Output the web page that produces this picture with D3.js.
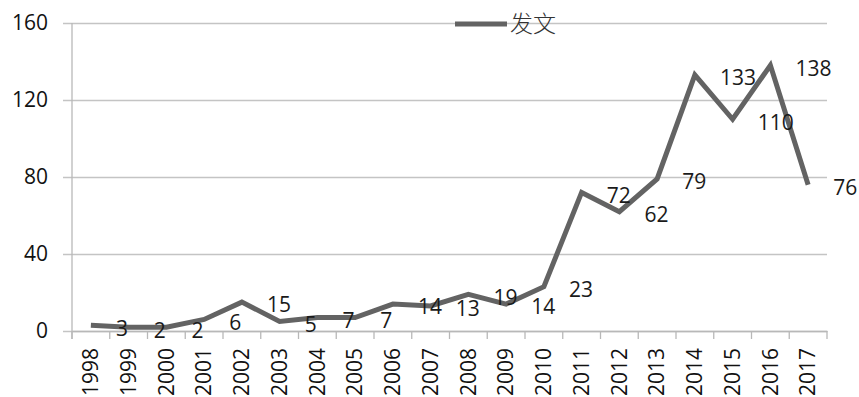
<!DOCTYPE html>
<html>
<head>
<meta charset="utf-8">
<script src="https://cdn.jsdelivr.net/npm/d3@7"></script>
<style>
    body { margin: 0; background: #fff; }
    svg { display: block; }
</style>
</head>
<body>
<div id="chart"></div>
<script>
var years = ['1998', '1999', '2000', '2001', '2002', '2003', '2004', '2005', '2006', '2007',
    '2008', '2009', '2010', '2011', '2012', '2013', '2014', '2015', '2016', '2017'];
var papers = [3, 2, 2, 6, 15, 5, 7, 7, 14, 13, 19, 14, 23, 72, 62, 79, 133, 110, 138, 76];
var yTicks = [0, 40, 80, 120, 160];
var seriesName = '发文';

var width = 859,
    height = 397;

var margin = { top: 23, right: 32, bottom: 66, left: 72 };

var svg = d3.select('#chart').append('svg')
    .attr('width', width)
    .attr('height', height);

var x = d3.scaleBand()
    .domain(years)
    .range([margin.left, width - margin.right]);

var y = d3.scaleLinear()
    .domain([0, 160])
    .range([height - margin.bottom, margin.top]);

var labelFont = '"Open Sans", sans-serif';

// gridlines + y labels
var yAxis = svg.append('g')
    .attr('class', 'y-axis')
    .attr('transform', 'translate(' + margin.left + ',0)')
    .call(d3.axisLeft(y)
        .tickValues(yTicks)
        .tickSize(-(width - margin.left - margin.right))
        .tickPadding(24)
        .tickSizeOuter(0));

yAxis.select('.domain').remove();
yAxis.selectAll('.tick line')
    .attr('x1', -9)
    .style('stroke', '#c4c4c4')
    .style('stroke-width', 1.3);
yAxis.selectAll('.tick text')
    .style('font-family', labelFont)
    .style('font-size', '21px')
    .style('fill', '#111');

// left axis line
svg.append('line')
    .attr('x1', margin.left).attr('x2', margin.left)
    .attr('y1', y(160)).attr('y2', y(0) + 8)
    .style('stroke', '#b8b8b8')
    .style('stroke-width', 1.3);

// x axis
var xAxis = svg.append('g')
    .attr('class', 'x-axis')
    .attr('transform', 'translate(0,' + y(0) + ')')
    .call(d3.axisBottom(x).tickSize(0).tickPadding(0));

xAxis.select('.domain')
    .style('stroke', '#b8b8b8')
    .style('stroke-width', 1.3);

xAxis.selectAll('.tick text')
    .style('font-family', labelFont)
    .style('font-size', '21px')
    .style('fill', '#111')
    .attr('text-anchor', 'end')
    .attr('dy', '0.35em')
    .attr('transform', 'translate(0,17) rotate(-90)')
    .attr('x', 0)
    .attr('y', 0);

// tick marks on band boundaries
var bounds = years.map(function (d) { return x(d); }).concat([x(years[years.length - 1]) + x.bandwidth()]);
xAxis.selectAll('.bound')
    .data(bounds)
    .enter().append('line')
    .attr('class', 'bound')
    .attr('x1', function (d) { return d; })
    .attr('x2', function (d) { return d; })
    .attr('y1', 0)
    .attr('y2', 8)
    .style('stroke', '#b8b8b8')
    .style('stroke-width', 1.3);

// line
var line = d3.line()
    .x(function (d, i) { return x(years[i]) + x.bandwidth() / 2; })
    .y(function (d) { return y(d); });

svg.append('path')
    .datum(papers)
    .attr('d', line)
    .style('fill', 'none')
    .style('stroke', '#636363')
    .style('stroke-width', 5)
    .style('stroke-linejoin', 'miter');

// data labels
svg.append('g')
    .attr('class', 'labels')
    .selectAll('text')
    .data(papers)
    .enter().append('text')
    .attr('x', function (d, i) { return x(years[i]) + x.bandwidth() / 2 + 25; })
    .attr('y', function (d) { return y(d) + 3; })
    .attr('dy', '0.35em')
    .text(function (d) { return d; })
    .style('font-family', labelFont)
    .style('font-size', '21px')
    .style('fill', '#1a1a1a');

// legend
var legend = svg.append('g')
    .attr('class', 'legend')
    .attr('transform', 'translate(455,24)');

legend.append('line')
    .attr('x1', 0).attr('x2', 52)
    .attr('y1', 0).attr('y2', 0)
    .style('stroke', '#636363')
    .style('stroke-width', 5);

legend.append('text')
    .attr('x', 55)
    .attr('y', 0)
    .attr('dy', '0.35em')
    .text(seriesName)
    .style('font-family', '"Noto Sans CJK SC", sans-serif')
    .style('font-weight', 300)
    .style('font-size', '23px')
    .style('fill', '#333');
</script>
</body>
</html>
